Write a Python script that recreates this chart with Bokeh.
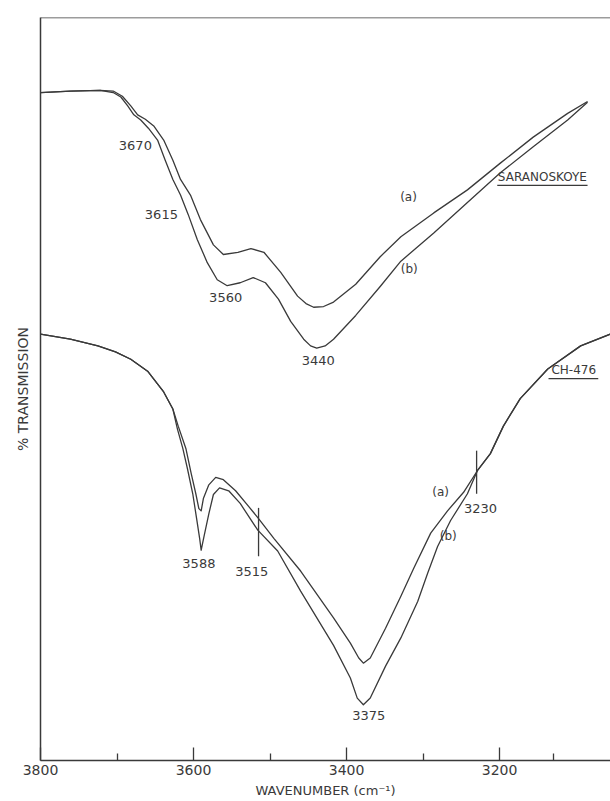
from bokeh.plotting import figure
from bokeh.models import Range1d, FixedTicker, Span
from bokeh.core.properties import value
from bokeh.embed import file_html
from bokeh.resources import INLINE

# ---- data (wavenumber cm-1, % transmission, arbitrary scale) ----
sar_a_w = [3800, 3761, 3722, 3705, 3693, 3682, 3673, 3663, 3652, 3639, 3627, 3617, 3604, 3591, 3574, 3561,
           3542, 3525, 3508, 3486, 3464, 3453, 3443, 3430, 3417, 3388, 3356, 3329, 3286, 3242, 3199, 3156,
           3111, 3085]
sar_a_t = [89.9, 90.1, 90.2, 90.1, 89.4, 88.1, 86.9, 86.3, 85.4, 83.5, 80.8, 78.2, 76.1, 72.8, 69.4, 68.1,
           68.4, 68.9, 68.4, 65.7, 62.5, 61.5, 61.0, 61.1, 61.7, 64.1, 67.8, 70.5, 73.7, 76.8, 80.4, 83.9,
           87.1, 88.7]

sar_b_w = [3800, 3761, 3722, 3705, 3695, 3686, 3678, 3669, 3659, 3647, 3637, 3627, 3617, 3607, 3595, 3582,
           3569, 3556, 3539, 3522, 3506, 3489, 3473, 3456, 3447, 3439, 3428, 3417, 3388, 3356, 3329, 3286,
           3242, 3199, 3156, 3111, 3085]
sar_b_t = [89.9, 90.1, 90.2, 89.9, 89.3, 88.1, 86.9, 86.2, 85.1, 83.5, 80.8, 78.2, 76.1, 73.5, 70.1, 67.0,
           64.7, 63.9, 64.3, 65.0, 64.3, 62.1, 59.1, 56.7, 55.8, 55.5, 55.8, 56.7, 59.9, 63.8, 67.2, 71.0,
           75.1, 79.1, 82.6, 86.2, 88.6]

ch_a_w = [3800, 3761, 3725, 3702, 3682, 3660, 3639, 3627, 3620, 3610, 3603, 3597, 3593, 3590, 3587, 3580,
          3571, 3561, 3545, 3528, 3516, 3495, 3460, 3417, 3395, 3384, 3378, 3369, 3349, 3329, 3312, 3290,
          3268, 3247, 3229, 3212, 3195, 3173, 3137, 3094, 3055]
ch_a_t = [57.4, 56.7, 55.8, 55.0, 54.0, 52.4, 49.6, 47.3, 45.0, 42.0, 38.6, 35.9, 33.9, 33.6, 35.3, 37.1,
          38.1, 37.8, 36.3, 34.2, 32.7, 29.9, 25.5, 19.2, 15.8, 13.8, 13.1, 13.8, 17.8, 22.1, 25.9, 30.6,
          33.6, 36.1, 39.0, 41.3, 45.0, 48.7, 52.7, 55.8, 57.4]

ch_b_w = [3800, 3761, 3725, 3702, 3682, 3660, 3639, 3627, 3621, 3614, 3608, 3601, 3596, 3592, 3590, 3586,
          3580, 3574, 3566, 3554, 3539, 3516, 3490, 3460, 3417, 3395, 3386, 3378, 3369, 3349, 3329, 3307,
          3294, 3281, 3264, 3242, 3229, 3212, 3195, 3173, 3137, 3094, 3055]
ch_b_t = [57.4, 56.7, 55.8, 55.0, 54.0, 52.4, 49.6, 47.3, 44.6, 42.0, 39.3, 35.9, 32.6, 29.9, 28.3, 30.3,
          33.2, 35.8, 36.7, 36.3, 34.6, 31.0, 28.2, 22.8, 15.5, 11.1, 8.4, 7.5, 8.4, 12.7, 16.5, 21.4,
          25.2, 28.8, 32.3, 35.9, 39.0, 41.3, 45.0, 48.7, 52.7, 55.8, 57.4]

# vertical marker bars on CH-476
mark_w = [3515, 3230]
mark_t0 = [27.5, 35.9]
mark_t1 = [34.0, 41.7]

# band labels
band_text = ["3670", "3615", "3560", "3440", "3588", "3515", "3375", "3230"]
band_w = [3676, 3642, 3558, 3437, 3593, 3524, 3371, 3225]
band_t = [82.8, 73.5, 62.3, 53.8, 26.5, 25.5, 6.0, 33.9]

curve_text = ["(a)", "(b)", "(a)", "(b)"]
curve_w = [3319, 3318, 3277, 3267]
curve_t = [75.9, 66.1, 36.2, 30.2]

sample_text = ["SARANOSKOYE", "CH-476"]
sample_w = [3144, 3103]
sample_t = [78.6, 52.6]
sample_u0 = [3203, 3136]
sample_u1 = [3085, 3071]
sample_ut = [77.4, 51.4]

major_ticks = [3800, 3600, 3400, 3200]
minor_ticks = [3700, 3500, 3300, 3130]

INK = "#3a3a3a"
FONT = "DejaVu Sans"

p = figure(width=610, height=800, x_range=Range1d(3800, 3055), y_range=Range1d(0, 100),
           output_backend="svg", toolbar_location=None,
           min_border_left=40, min_border_top=17, min_border_right=0, min_border_bottom=0)
p.outline_line_color = None
p.xgrid.grid_line_color = None
p.ygrid.grid_line_color = None
p.background_fill_color = "white"

for w, t in [(sar_a_w, sar_a_t), (sar_b_w, sar_b_t), (ch_a_w, ch_a_t), (ch_b_w, ch_b_t)]:
    p.line(w, t, line_color=INK, line_width=1.3, line_join="round")

p.segment(x0=mark_w, y0=mark_t0, x1=mark_w, y1=mark_t1, line_color=INK, line_width=1.3)

p.text(x=band_w, y=band_t, text=band_text, text_font=value(FONT), text_font_size="13px",
       text_align="center", text_baseline="middle", text_color=INK)
p.text(x=curve_w, y=curve_t, text=curve_text, text_font=value(FONT), text_font_size="12px",
       text_align="center", text_baseline="middle", text_color=INK)
p.text(x=sample_w, y=sample_t, text=sample_text, text_font=value(FONT), text_font_size="12px",
       text_align="center", text_baseline="middle", text_color=INK)
p.segment(x0=sample_u0, y0=sample_ut, x1=sample_u1, y1=sample_ut, line_color=INK, line_width=1.2)

# top border of the chart box
p.add_layout(Span(location=100, dimension="width", line_color=INK, line_width=1.5))

# x axis
xa = p.xaxis[0]
xa.ticker = FixedTicker(ticks=major_ticks, minor_ticks=minor_ticks)
xa.major_tick_in = 13
xa.major_tick_out = 0
xa.minor_tick_in = 7
xa.minor_tick_out = 0
xa.axis_line_color = INK
xa.axis_line_width = 1.5
xa.major_tick_line_color = INK
xa.minor_tick_line_color = INK
xa.major_tick_line_width = 1.3
xa.minor_tick_line_width = 1.3
xa.major_label_text_font = FONT
xa.major_label_text_font_size = "14px"
xa.major_label_text_color = INK
xa.major_label_standoff = 4
xa.axis_label = "WAVENUMBER (cm\u207b\u00b9)"
xa.axis_label_text_font = FONT
xa.axis_label_text_font_size = "13px"
xa.axis_label_text_font_style = "normal"
xa.axis_label_text_color = INK
xa.axis_label_standoff = 5

# y axis (frame line + label only)
ya = p.yaxis[0]
ya.ticker = FixedTicker(ticks=[])
ya.major_tick_in = 0
ya.major_tick_out = 0
ya.minor_tick_in = 0
ya.minor_tick_out = 0
ya.axis_line_color = INK
ya.axis_line_width = 1.5
ya.axis_label = "% TRANSMISSION"
ya.axis_label_text_font = FONT
ya.axis_label_text_font_size = "14px"
ya.axis_label_text_font_style = "normal"
ya.axis_label_text_color = INK
ya.axis_label_standoff = 10

open("out.html", "w").write(file_html(p, INLINE))
